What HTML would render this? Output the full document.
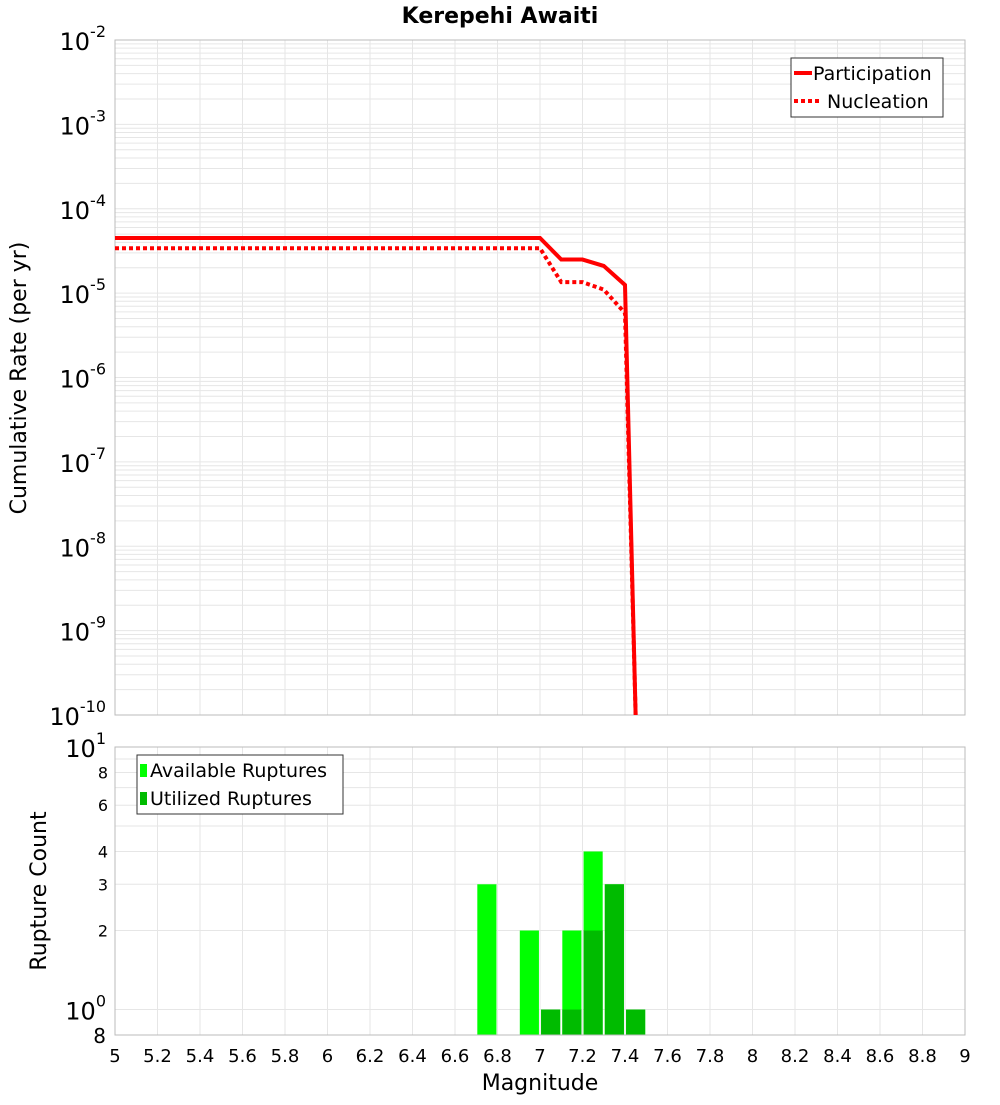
<!DOCTYPE html>
<html><head><meta charset="utf-8"><style>
body{margin:0;background:#fff;font-family:"Liberation Sans","DejaVu Sans",sans-serif}
svg text{font-family:"DejaVu Sans","Liberation Sans",sans-serif}
</style></head><body>
<svg id="c" width="1000" height="1100" xmlns="http://www.w3.org/2000/svg">
<text x="500" y="23" text-anchor="middle" font-size="22" font-weight="bold">Kerepehi Awaiti</text>
<g id="topg"></g><g id="botg"></g>
<text transform="translate(26,378) rotate(-90)" text-anchor="middle" font-size="22">Cumulative Rate (per yr)</text>
<text transform="translate(46,891) rotate(-90)" text-anchor="middle" font-size="22">Rupture Count</text>
<text x="540" y="1090" text-anchor="middle" font-size="22">Magnitude</text>
</svg>
<script>
const partMags=[5,5.1,5.2,5.3,5.4,5.5,5.6,5.7,5.8,5.9,6,6.1,6.2,6.3,6.4,6.5,6.6,6.7,6.8,6.9,7.0,7.1,7.2,7.3,7.4,7.45];
const partRates=[4.5e-5,4.5e-5,4.5e-5,4.5e-5,4.5e-5,4.5e-5,4.5e-5,4.5e-5,4.5e-5,4.5e-5,4.5e-5,4.5e-5,4.5e-5,4.5e-5,4.5e-5,4.5e-5,4.5e-5,4.5e-5,4.5e-5,4.5e-5,4.5e-5,2.5e-5,2.5e-5,2.1e-5,1.25e-5,1e-10];
const nuclMags=[5,5.5,6,6.5,6.9,7.0,7.1,7.2,7.3,7.4,7.45];
const nuclRates=[3.4e-5,3.4e-5,3.4e-5,3.4e-5,3.4e-5,3.4e-5,1.35e-5,1.35e-5,1.1e-5,5.8e-6,1e-10];
const binCenters=[6.75,6.95,7.05,7.15,7.25,7.35,7.45];
const availCounts=[3,2,1,2,4,3,1];
const utilCounts=[0,0,1,1,2,3,1];
const xTicks=[5,5.2,5.4,5.6,5.8,6,6.2,6.4,6.6,6.8,7,7.2,7.4,7.6,7.8,8,8.2,8.4,8.6,8.8,9];
const topExps=[-2,-3,-4,-5,-6,-7,-8,-9,-10];
const botTicks=[2,3,4,6,8];

const NS="http://www.w3.org/2000/svg";
const L=115,R=965,TT=40,TB=715,BT=747,BB=1035;
const X=m=>L+(m-5)/4*(R-L);
const YT=v=>TT+(-2-Math.log10(v))/8*(TB-TT);
const bMin=Math.log10(0.8);
const YB=v=>BT+(1-Math.log10(v))/(1-bMin)*(BB-BT);
function mk(p,t,a,txt){const e=document.createElementNS(NS,t);for(const k in a)e.setAttribute(k,a[k]);if(txt!==undefined)e.textContent=txt;p.appendChild(e);return e;}
const topG=document.getElementById('topg'),botG=document.getElementById('botg');

for(let d=-10;d<-2;d++)for(let k=1;k<10;k++){const y=YT(k*Math.pow(10,d));
const g=mk(topG,'line',{x1:L,x2:R,y1:y,y2:y,stroke:'#e6e6e6','stroke-width':1});

}
xTicks.forEach(m=>{
const g=mk(topG,'line',{x1:X(m),x2:X(m),y1:TT,y2:TB,stroke:'#e6e6e6'});


const g2=mk(botG,'line',{x1:X(m),x2:X(m),y1:BT,y2:BB,stroke:'#e6e6e6'});


const t=mk(botG,'text',{x:X(m),y:1062,'text-anchor':'middle','font-size':18},String(m));


});
topExps.forEach(e=>{
const t=mk(topG,'text',{x:106,y:YT(Math.pow(10,e))+10,'text-anchor':'end','font-size':24});


t.innerHTML='10<tspan dy="-13" font-size="16">'+e+'</tspan>';
});
mk(topG,'rect',{x:L,y:TT,width:R-L,height:TB-TT,fill:'none',stroke:'#bbb'});
const pp=mk(topG,'polyline',{points:partMags.map((m,i)=>X(m)+','+YT(partRates[i])).join(' '),fill:'none',stroke:'#f00','stroke-width':4});


const np=mk(topG,'polyline',{points:nuclMags.map((m,i)=>X(m)+','+YT(nuclRates[i])).join(' '),fill:'none',stroke:'#f00','stroke-width':4,'stroke-dasharray':'4,3'});


const lg=mk(topG,'g',{});


mk(lg,'rect',{x:791,y:58,width:152,height:59,fill:'#fff',stroke:'#333'});
mk(lg,'line',{x1:794,x2:812,y1:73,y2:73,stroke:'#f00','stroke-width':4});
mk(lg,'text',{x:813,y:80,'font-size':19},'Participation');
mk(lg,'line',{x1:794,x2:822,y1:101,y2:101,stroke:'#f00','stroke-width':4,'stroke-dasharray':'4,3'});
mk(lg,'text',{x:827,y:108,'font-size':19},'Nucleation');

[1,2,3,4,5,6,7,8,9,10].forEach(v=>{const y=YB(v);
const g=mk(botG,'line',{x1:L,x2:R,y1:y,y2:y,stroke:'#e6e6e6'});

});
botTicks.forEach(v=>{
const t=mk(botG,'text',{x:108,y:YB(v)+6,'text-anchor':'end','font-size':16},String(v));

});
[[10,'1'],[1,'0']].forEach(([v,e])=>{
const t=mk(botG,'text',{x:106,y:YB(v)+10,'text-anchor':'end','font-size':24});


t.innerHTML='10<tspan dy="-13" font-size="16">'+e+'</tspan>';});
const t8=mk(botG,'text',{x:106,y:1043,'text-anchor':'end','font-size':20},'8');


const bw=0.09*(R-L)/4;
binCenters.forEach((m,i)=>{
if(availCounts[i]>0){const r=mk(botG,'rect',{x:X(m)-bw/2,y:YB(availCounts[i]),width:bw,height:BB-YB(availCounts[i]),fill:'#00ff00'});

}
if(utilCounts[i]>0){const r=mk(botG,'rect',{x:X(m)-bw/2,y:YB(utilCounts[i]),width:bw,height:BB-YB(utilCounts[i]),fill:'#00bb00'});

}
});
mk(botG,'rect',{x:L,y:BT,width:R-L,height:BB-BT,fill:'none',stroke:'#bbb'});
const bl=mk(botG,'g',{});


mk(bl,'rect',{x:137,y:755,width:206,height:59,fill:'#fff',stroke:'#333'});
mk(bl,'rect',{x:140,y:764,width:7,height:13,fill:'#00ff00'});
mk(bl,'text',{x:150,y:777,'font-size':19},'Available Ruptures');
mk(bl,'rect',{x:140,y:792,width:7,height:13,fill:'#00bb00'});
mk(bl,'text',{x:150,y:805,'font-size':19},'Utilized Ruptures');
</script>
</body></html>
